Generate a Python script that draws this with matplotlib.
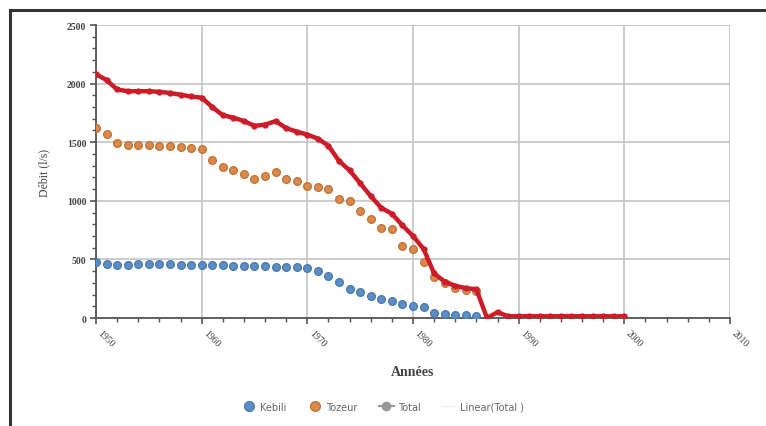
import matplotlib
matplotlib.use('Agg')
import matplotlib.pyplot as plt
from matplotlib.lines import Line2D
from matplotlib.ticker import MultipleLocator
import numpy as np

# values (l/s)
years_total = list(range(1950, 2001))
total = [2080, 2030, 1950, 1935, 1935, 1935, 1930, 1920, 1905, 1890,
         1880, 1800, 1730, 1710, 1680, 1640, 1650, 1680, 1620, 1590,
         1565, 1530, 1470, 1340, 1260, 1150, 1040, 940, 890, 790,
         700, 590, 380, 310, 275, 255, 245, 0, 50, 15,
         15, 15, 15, 15, 15, 15, 15, 15, 15, 15, 15]

years_sub = list(range(1950, 1987))
tozeur = [1620, 1570, 1490, 1480, 1480, 1475, 1470, 1465, 1460, 1450,
          1440, 1350, 1290, 1260, 1230, 1190, 1210, 1245, 1190, 1165,
          1130, 1115, 1105, 1015, 995, 915, 845, 765, 760, 615,
          590, 480, 350, 300, 260, 240, 230]
kebili = [480, 460, 450, 455, 460, 460, 460, 458, 455, 455,
          452, 450, 450, 448, 445, 442, 440, 438, 435, 432,
          425, 400, 355, 305, 250, 220, 190, 165, 145, 120,
          105, 90, 40, 30, 25, 22, 20]

legend_labels = ['Kebili', 'Tozeur', 'Total', 'Linear(Total )']

blue = '#5b8ec6'
orange = '#dc8a4c'
red = '#cc1c28'
serif = ['Liberation Serif', 'DejaVu Serif']

fig = plt.figure(figsize=(7.66, 4.27), dpi=100)
ax = fig.add_axes([0.1253, 0.2529, 0.8277, 0.6862])

ax.plot(years_sub, kebili, 'o', color=blue, mec='#4a7ab0', ms=5.5, zorder=3)
ax.plot(years_sub, tozeur, 'o', color=orange, mec='#c07438', ms=5.5, zorder=3)
ax.plot(years_total, total, '-o', color=red, lw=3.2, ms=3.5, zorder=4)

ax.set_xlim(1950, 2010)
ax.set_ylim(0, 2500)
ax.xaxis.set_major_locator(MultipleLocator(10))
ax.xaxis.set_minor_locator(MultipleLocator(2))
ax.yaxis.set_major_locator(MultipleLocator(500))
ax.yaxis.set_minor_locator(MultipleLocator(100))
ax.grid(True, which='major', color='#c4c4c4', lw=1.2)
ax.set_axisbelow(True)

for s in ['top', 'right']:
    ax.spines[s].set_visible(False)
for s in ['left', 'bottom']:
    ax.spines[s].set_color('#555555')
    ax.spines[s].set_linewidth(1.3)

ax.tick_params(which='major', length=4, color='#555555', width=1.2,
               labelsize=7, labelcolor='#444444', pad=3)
ax.tick_params(which='minor', length=3, color='#555555', width=1)
for lab in ax.get_xticklabels():
    lab.set_rotation(-45)
    lab.set_ha('left')
    lab.set_va('top')
    lab.set_family(serif)
for lab in ax.get_yticklabels():
    lab.set_family(serif)
    lab.set_fontweight('bold')

ax.set_xlabel('Années', family=serif, fontsize=10, fontweight='bold',
              color='#444444', labelpad=12)
ax.set_ylabel('Débit (l/s)', family=serif, fontsize=8.5, color='#444444',
              labelpad=12)

handles = [
    Line2D([], [], ls='', marker='o', color=blue, mec='#4a7ab0', ms=7),
    Line2D([], [], ls='', marker='o', color=orange, mec='#c07438', ms=7),
    Line2D([], [], ls='-', marker='o', color='#999999', ms=6, lw=1.5),
    Line2D([], [], ls='-', color='#f4f4f4', lw=1),
]
fig.legend(handles, legend_labels, loc='center', bbox_to_anchor=(0.5, 0.045),
           ncol=4, frameon=False, fontsize=7, labelcolor='#666666',
           handlelength=1.5, handletextpad=0.4, columnspacing=2.2)

# frame of the pasted picture (top and left edges only)
fig.add_artist(Line2D([0.013, 1.0], [0.974, 0.974], color='#333333', lw=2.2))
fig.add_artist(Line2D([0.013, 0.013], [0.0, 0.974], color='#333333', lw=2.2))

fig.savefig('out.png', dpi=100)
